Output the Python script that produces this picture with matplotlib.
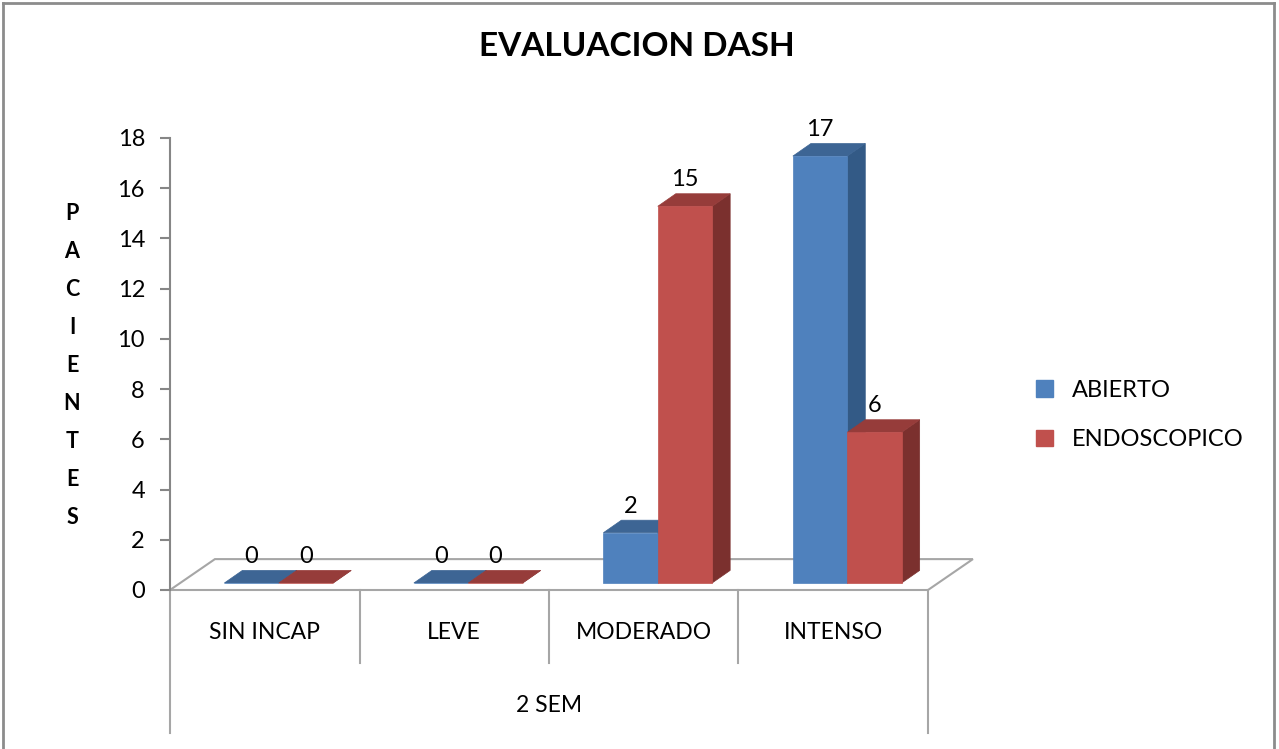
import matplotlib
matplotlib.use("Agg")
import matplotlib.pyplot as plt
from matplotlib.patches import Polygon, Patch
from matplotlib.lines import Line2D

# Datos
categorias = ["SIN INCAP", "LEVE", "MODERADO", "INTENSO"]
abierto = [0, 0, 2, 17]
endoscopico = [0, 0, 15, 6]
series = ["ABIERTO", "ENDOSCOPICO"]
grupo = "2 SEM"

plt.rcParams['font.family'] = ['Lato', 'DejaVu Sans']

W, H = 1279, 749
fig = plt.figure(figsize=(W / 100, H / 100), dpi=100)
ax = fig.add_axes([170 / W, (H - 590) / H, 758 / W, 452 / H])
ax.set_xlim(0, 4)
ax.set_ylim(0, 18)

# geometria 3D (unidades de datos)
ancho = 0.287
desp = 0.074
base = 0.28
dx, dy = 0.095, 0.5
fondo_x, fondo_y = 0.237, 1.23

gris = '#a6a6a6'

# piso
ax.add_patch(Polygon([(0, 0), (4, 0), (4 + fondo_x, fondo_y), (fondo_x, fondo_y)],
                     closed=True, fc='white', ec=gris, lw=1.5, clip_on=False, zorder=1))

colores = [('#4f81bd', '#3d6594', '#335a86'),
           ('#c0504d', '#963c3a', '#7b302e')]


def barra3d(x0, h, cols, z):
    front, top, side = cols
    y0 = base
    y1 = base + h
    ax.add_patch(Polygon([(x0 + ancho, y0), (x0 + ancho + dx, y0 + dy),
                          (x0 + ancho + dx, y1 + dy), (x0 + ancho, y1)],
                         closed=True, fc=side, ec=side, lw=0.5, clip_on=False, zorder=z))
    ax.add_patch(Polygon([(x0, y1), (x0 + ancho, y1), (x0 + ancho + dx, y1 + dy), (x0 + dx, y1 + dy)],
                         closed=True, fc=top, ec=top, lw=0.5, clip_on=False, zorder=z))
    ax.bar(x0, h, width=ancho, bottom=base, align='edge', color=front,
           edgecolor=front, linewidth=0.5, zorder=z + 0.5, clip_on=False)
    ax.annotate(str(h), (x0 + ancho / 2, y1), xytext=(0, 19), textcoords='offset points',
                ha='center', va='center', fontsize=17, color='black', zorder=10)


for i in range(len(categorias)):
    centro = i + 0.5 + desp
    barra3d(centro - ancho, abierto[i], colores[0], 2)
    barra3d(centro, endoscopico[i], colores[1], 4)

# ejes
for s in ['top', 'right', 'bottom']:
    ax.spines[s].set_visible(False)
ax.spines['left'].set_color('#868686')
ax.spines['left'].set_linewidth(1.5)
ax.set_yticks(range(0, 19, 2))
ax.tick_params(axis='y', length=7, width=1.5, color='#868686', pad=11, labelsize=17)
ax.set_xticks([])
ax.patch.set_alpha(0)

# separadores de categorias
for i in range(1, 4):
    ax.plot([i, i], [0, -2.9], color=gris, lw=1.5, clip_on=False)
for i in [0, 4]:
    ax.plot([i, i], [0, -5.69], color=gris, lw=1.5, clip_on=False)

for i, c in enumerate(categorias):
    ax.text(i + 0.5, -1.71, c, ha='center', va='center', fontsize=16.5)
ax.text(2, -4.6, grupo, ha='center', va='center', fontsize=16.5)

# leyenda
handles = [Patch(fc=colores[k][0], ec=colores[k][0]) for k in range(2)]
fig.legend(handles, series, loc='center left', bbox_to_anchor=(1015 / W, 1 - 415 / H),
           frameon=False, fontsize=17, handlelength=0.7, handleheight=0.7,
           handletextpad=0.8, labelspacing=1.2)

# titulo y etiqueta
fig.text(637 / W, 1 - 47 / H, 'EVALUACION DASH', ha='center', va='center',
         fontsize=24, fontweight='bold')
fig.text(72 / W, 1 - 366 / H, "\n".join("PACIENTES"), ha='center', va='center',
         fontsize=15.5, fontweight='bold', linespacing=2.0)

# borde
borde = '#8c8c8c'
fig.add_artist(Line2D([3 / W, 3 / W], [0, 1 - 3 / H], color=borde, lw=2, transform=fig.transFigure))
fig.add_artist(Line2D([3 / W, 1 - 5 / W], [1 - 3 / H, 1 - 3 / H], color=borde, lw=2, transform=fig.transFigure))
fig.add_artist(Line2D([1 - 5 / W, 1 - 5 / W], [0, 1 - 3 / H], color=borde, lw=2, transform=fig.transFigure))

fig.savefig("out.png", dpi=100)
